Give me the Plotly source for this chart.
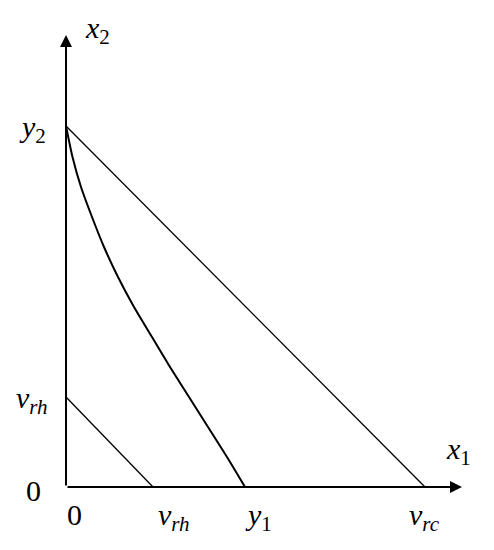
import plotly.graph_objects as go

# axis extents (same units as the lines)
x_axis_end = 396
y_axis_end = 452

# outer budget line y2 -> v_rc
outer_x = [0, 359]
outer_y = [361, 0]

# inner line v_rh -> v_rh
inner_x = [0, 87]
inner_y = [90, 0]

# convex curve y2 -> y1
curve_x = [0, 6.5, 15, 26, 38, 52, 68, 86, 104, 123, 142, 161, 179]
curve_y = [361, 330, 300, 270, 240, 210, 180, 150, 120, 90, 60, 30, 0]

# tick labels
x_tick_vals = [0, 87, 179, 359]
x_tick_text = ["0", "<i>v</i><sub><i>rh</i></sub>", "<i>y</i><sub>1</sub>", "<i>v</i><sub><i>rc</i></sub>"]
y_tick_vals = [0, 90, 361]
y_tick_text = ["0", "<i>v</i><sub><i>rh</i></sub>", "<i>y</i><sub>2</sub>"]

x_lab_shift = [-1, 3, -2, -18]  # px nudges, left anchored
y_lab_shift = [-23, -16, -18]   # px nudges, right anchored

FONT = dict(family="Liberation Serif", size=30, color="black")

fig = go.Figure()
fig.add_trace(go.Scatter(x=outer_x, y=outer_y, mode="lines",
                         line=dict(color="black", width=1.3)))
fig.add_trace(go.Scatter(x=inner_x, y=inner_y, mode="lines",
                         line=dict(color="black", width=1.3)))
fig.add_trace(go.Scatter(x=curve_x, y=curve_y, mode="lines",
                         line=dict(color="black", width=2, shape="spline", smoothing=0.6)))

# axes with arrow heads
fig.add_annotation(x=x_axis_end, y=0, ax=0, ay=0, xref="x", yref="y", axref="x", ayref="y",
                   showarrow=True, arrowhead=2, arrowsize=1.2, arrowwidth=2, arrowcolor="black", text="")
fig.add_annotation(x=0, y=y_axis_end, ax=0, ay=0, xref="x", yref="y", axref="x", ayref="y",
                   showarrow=True, arrowhead=2, arrowsize=1.2, arrowwidth=2, arrowcolor="black", text="")

# axis names
fig.add_annotation(x=x_axis_end, y=0, text="<i>x</i><sub>1</sub>", showarrow=False,
                   xanchor="left", yanchor="bottom", xshift=-18, yshift=15, font=FONT)
fig.add_annotation(x=0, y=y_axis_end, text="<i>x</i><sub>2</sub>", showarrow=False,
                   xanchor="left", yanchor="middle", xshift=17, yshift=5, font=FONT)

for v, t, s in zip(x_tick_vals, x_tick_text, x_lab_shift):
    fig.add_annotation(x=v, y=0, text=t, showarrow=False, xanchor="left", yanchor="top",
                       xshift=s, yshift=-9, font=FONT)
for v, t, s in zip(y_tick_vals, y_tick_text, y_lab_shift):
    fig.add_annotation(x=0, y=v, text=t, showarrow=False, xanchor="right", yanchor="middle",
                       xshift=s, yshift=-3, font=FONT)

# page body has an 8px margin, so the figure is 16px smaller than the window
fig.update_xaxes(range=[-58, 420], visible=False)
fig.update_yaxes(range=[-55, 479], visible=False)
fig.update_layout(width=478, height=534, margin=dict(l=0, r=0, t=0, b=0),
                  plot_bgcolor="white", paper_bgcolor="white", showlegend=False)

fig.write_html("out.html")
